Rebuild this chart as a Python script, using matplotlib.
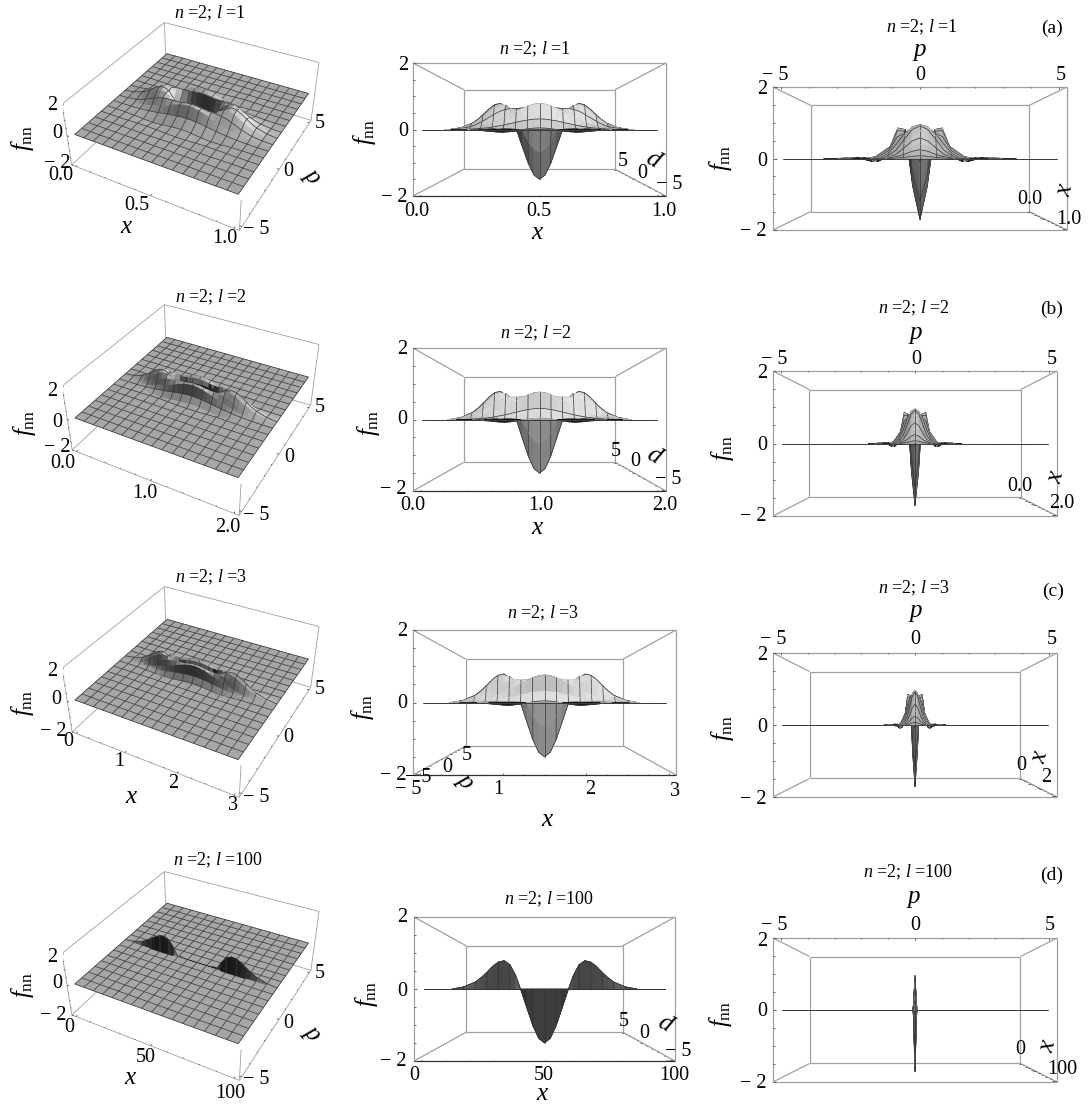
import numpy as np
import matplotlib
matplotlib.use("Agg")
import matplotlib.pyplot as plt
from mpl_toolkits.mplot3d import proj3d
from mpl_toolkits.mplot3d.art3d import Poly3DCollection

W, H = 1088, 1106
plt.rcParams["font.family"] = ["Liberation Serif", "DejaVu Serif"]
plt.rcParams["mathtext.fontset"] = "custom"
plt.rcParams["mathtext.rm"] = "Liberation Serif"
plt.rcParams["mathtext.it"] = "Liberation Serif:italic"

# =========================
# data (quarter of the surface, the rest is mirrored)
# =========================
l_values = [1, 2, 3, 100]
dx_frac = [0, 0.03125, 0.0625, 0.09375, 0.125, 0.15625, 0.1875, 0.21875, 0.25,
           0.28125, 0.3125, 0.34375, 0.375, 0.4375, 0.5]

p_rows_l1 = [0, 0.3125, 0.625, 0.9375, 1.25, 1.875, 2.5, 3.125, 3.75, 4.375, 5]
p_rows_l2 = [0, 0.15625, 0.3125, 0.46875, 0.625, 0.9375, 1.25, 1.5625, 1.875, 2.1875, 2.5]
p_rows_l3 = [0, 0.10417, 0.20833, 0.3125, 0.41667, 0.625, 0.83333, 1.04167, 1.25, 1.45833, 1.66667]
p_rows_l100 = [0, 0.08]

f_ring = [
    [-2.00, -1.83, -1.37, -0.74, -0.10, 0.50, 0.90, 1.05, 1.00, 0.84, 0.62, 0.42, 0.26, 0.08, 0.00],
    [-0.90, -0.78, -0.47, -0.05, 0.40, 0.78, 0.96, 0.98, 0.88, 0.70, 0.52, 0.34, 0.21, 0.06, 0.00],
    [0.95, 0.93, 0.88, 0.84, 0.82, 0.82, 0.78, 0.70, 0.58, 0.44, 0.31, 0.19, 0.11, 0.03, 0.00],
    [1.00, 0.97, 0.90, 0.80, 0.68, 0.56, 0.46, 0.36, 0.26, 0.18, 0.12, 0.08, 0.05, 0.01, 0.00],
    [0.40, 0.39, 0.36, 0.32, 0.27, 0.22, 0.17, 0.13, 0.09, 0.06, 0.04, 0.02, 0.01, 0.00, 0.00],
    [0.06, 0.05, 0.02, -0.02, -0.05, -0.08, -0.10, -0.09, -0.07, -0.05, -0.03, -0.02, -0.01, 0.00, 0.00],
    [-0.03, -0.03, -0.02, -0.01, 0.01, 0.02, 0.03, 0.03, 0.02, 0.02, 0.01, 0.00, 0.00, 0.00, 0.00],
    [0.01, 0.01, 0.01, 0.00, -0.01, -0.01, -0.01, -0.01, -0.01, 0.00, 0.00, 0.00, 0.00, 0.00, 0.00],
    [0.00] * 15,
    [0.00] * 15,
    [0.00] * 15,
]
f_l100 = [
    [-2.00, -1.83, -1.37, -0.74, -0.10, 0.50, 0.90, 1.05, 1.00, 0.84, 0.62, 0.42, 0.26, 0.08, 0.00],
    [0.00] * 15,
]
p_mesh = [0.625, 1.25, 1.875, 2.5, 3.125, 3.75, 4.375, 5]

tables = {1: (p_rows_l1, f_ring), 2: (p_rows_l2, f_ring), 3: (p_rows_l3, f_ring), 100: (p_rows_l100, f_l100)}
x_ticks = {1: [0, 0.5, 1], 2: [0, 1, 2], 3: [0, 1, 2, 3], 100: [0, 50, 100]}
x_minor_step = {1: 0.1, 2: 0.2, 3: 0.25, 100: 10}
z_ticks = [-2, 0, 2]
p_ticks = [-5, 0, 5]

# =========================
# layout (pixels of the reference)
# =========================
box_targets = {
    (0, 0): (62, 23, 319, 230), (1, 0): (62, 305, 319, 515),
    (2, 0): (62, 587, 319, 797), (3, 0): (62, 872, 319, 1080),
    (0, 1): (413, 63, 666, 196), (1, 1): (413, 348, 666, 491),
    (2, 1): (413, 630, 676, 775), (3, 1): (414, 917, 675, 1061),
    (0, 2): (773, 87, 1067, 230), (1, 2): (773, 371, 1057, 516),
    (2, 2): (773, 653, 1057, 797), (3, 2): (773, 938, 1057, 1082),
}
views = {0: (36, -61.6, 0.43), 1: (0, -90, 0.25), 2: (0, 0, 0.43)}
# light, brightening gain, darkening gain for each column
lights = {0: ((0.6, 0.1, 0.8), 1.6, 0.7), 1: ((0.2, -0.65, 0.73), 0.9, 0.5), 2: ((0.8, 0.1, 0.6), 0.6, 0.5)}

FNN = r"$f_{\mathrm{nn}}$"
labels = [
    # column 1
    ("2", 52, 106), ("0", 57, 133), ("− 2", 57, 163), ("0.0", 61, 175), ("0.5", 137, 206),
    ("1.0", 225, 239), ("− 5", 256, 230), ("0", 288, 172), ("5", 320, 124),
    ("2", 52, 392), ("0", 57, 422), ("− 2", 57, 448), ("0.0", 63, 463), ("1.0", 145, 493),
    ("2.0", 228, 527), ("− 5", 256, 515), ("0", 289, 457), ("5", 320, 407),
    ("2", 52, 672), ("0", 56, 700), ("− 2", 53, 732), ("0", 68, 742), ("1", 119, 762),
    ("2", 173, 783), ("3", 233, 806), ("− 5", 256, 797), ("0", 288, 738), ("5", 320, 690),
    ("2", 52, 957), ("0", 57, 984), ("− 2", 53, 1015), ("0", 69, 1027), ("50", 146, 1057),
    ("100", 230, 1093), ("− 5", 256, 1080), ("0", 288, 1023), ("5", 320, 973),
    # column 2
    ("2", 403, 65), ("0", 403, 132), ("− 2", 394, 197), ("0.0", 417, 211), ("0.5", 539, 211),
    ("1.0", 664, 211), ("5", 623, 161), ("0", 642, 173), ("− 5", 669, 185),
    ("2", 402, 350), ("0", 402, 420), ("− 2", 393, 490), ("0.0", 413, 505), ("1.0", 541, 505),
    ("2.0", 665, 505), ("5", 616, 451), ("0", 635, 462), ("− 5", 668, 480),
    ("2", 402, 631), ("0", 402, 703), ("− 2", 393, 776), ("− 5", 408, 790), ("− 5", 418, 777),
    ("0", 447, 768), ("5", 467, 756), ("1", 498, 790), ("2", 590, 790), ("3", 675, 791),
    ("2", 402, 918), ("0", 402, 991), ("− 2", 393, 1062), ("0", 414, 1075), ("50", 544, 1075),
    ("100", 674, 1075), ("5", 624, 1021), ("0", 644, 1033), ("− 5", 678, 1051),
    # column 3
    ("− 5", 775, 76), ("0", 920, 76), ("5", 1061, 76), ("2", 762, 89), ("0", 762, 161),
    ("− 2", 753, 231), ("0.0", 1030, 200), ("1.0", 1069, 219),
    ("− 5", 774, 360), ("0", 916, 360), ("5", 1052, 360), ("2", 762, 373), ("0", 762, 445),
    ("− 2", 753, 517), ("0.0", 1020, 486), ("2.0", 1062, 503),
    ("− 5", 773, 639), ("0", 915, 639), ("5", 1052, 639), ("2", 762, 655), ("0", 762, 727),
    ("− 2", 753, 799), ("0", 1021, 765), ("2", 1046, 778),
    ("− 5", 774, 926), ("0", 915, 926), ("5", 1050, 926), ("2", 762, 941), ("0", 762, 1011),
    ("− 2", 753, 1083), ("0", 1020, 1050), ("100", 1062, 1069),
]
titles = [
    ("1", 210, 13), ("2", 211, 297), ("3", 211, 577), ("100", 218, 860),
    ("1", 535, 49), ("2", 536, 333), ("3", 543, 613), ("100", 549, 899),
    ("1", 922, 27), ("2", 914, 308), ("3", 914, 588), ("100", 908, 872),
]
axis_names = [
    (FNN, 23, 138, 90), (FNN, 25, 423, 90), (FNN, 23, 703, 90), (FNN, 23, 985, 90),
    (FNN, 365, 132, 90), (FNN, 368, 423, 90), (FNN, 363, 707, 90), (FNN, 367, 994, 90),
    (FNN, 720, 158, 90), (FNN, 722, 448, 90), (FNN, 722, 728, 90), (FNN, 720, 1014, 90),
    ("$x$", 127, 227, 0), ("$x$", 132, 797, 0), ("$x$", 131, 1078, 0),
    ("$x$", 538, 233, 0), ("$x$", 538, 528, 0), ("$x$", 548, 820, 0), ("$x$", 543, 1094, 0),
    ("$x$", 1065, 190, 75), ("$x$", 1056, 477, 75), ("$x$", 1040, 757, 75), ("$x$", 1048, 1046, 75),
    ("$p$", 310, 178, -50), ("$p$", 310, 1035, -50),
    ("$p$", 656, 157, 150), ("$p$", 657, 453, 150), ("$p$", 463, 783, -50), ("$p$", 668, 1021, 150),
    ("$p$", 920, 52, 0), ("$p$", 916, 335, 0), ("$p$", 916, 613, 0), ("$p$", 914, 899, 0),
]
letters = [("(a)", 1052, 28), ("(b)", 1052, 309), ("(c)", 1053, 591), ("(d)", 1052, 875)]

fig = plt.figure(figsize=(W / 100, H / 100), dpi=100)
BOX = "#a0a0a0"


def build_surface(l_val):
    rows, vals = tables[l_val]
    rows = list(rows)
    vals = [list(v) for v in vals]
    for pm in p_mesh:
        if pm > rows[-1] + 1e-6:
            rows.append(pm)
            vals.append([0.0] * len(dx_frac))
    vals = np.array(vals)
    dx = np.array(dx_frac)
    rows = np.array(rows)
    xs = l_val * np.r_[0.5 - dx[::-1], 0.5 + dx[1:]]
    ps = np.r_[-rows[::-1], rows[1:]]
    half = np.hstack([vals[:, ::-1], vals[:, 1:]])
    zz = np.vstack([half[::-1], half[1:]])
    return xs, ps, zz


def facet_shade(xs, ps, zz, l_val, col, cam):
    # grey from facet normals, flat plane stays at the base grey
    light, up_gain, down_gain = lights[col]
    light = np.array(light) / np.linalg.norm(light)
    xn, pn = np.meshgrid(xs / l_val, ps / 10)
    zn = zz * 0.06
    a = np.stack([xn[1:, 1:] - xn[:-1, :-1], pn[1:, 1:] - pn[:-1, :-1], zn[1:, 1:] - zn[:-1, :-1]], axis=-1)
    b = np.stack([xn[:-1, 1:] - xn[1:, :-1], pn[:-1, 1:] - pn[1:, :-1], zn[:-1, 1:] - zn[1:, :-1]], axis=-1)
    n = np.cross(b, a)
    n = n * np.sign(n[..., 2:3])
    n = n / np.linalg.norm(n, axis=-1, keepdims=True)
    if col > 0:
        # side views see the underside of the dip, turn normals to the camera
        facing = n @ cam
        n = np.where(facing[..., None] < -1e-6, -n, n)
    d = n @ light - light[2]
    shade = 0.65 + np.where(d > 0, up_gain * d, down_gain * d)
    if col == 1 and l_val == 100:
        shade = shade * 0.42
    return np.clip(shade, 0.08, 1.0)


def draw_surface(ax, l_val, col, elev, azim):
    xs, ps, zz = build_surface(l_val)
    e, a = np.radians(elev), np.radians(azim)
    cam = np.array([np.cos(e) * np.cos(a), np.cos(e) * np.sin(a), np.sin(e)])
    shade = facet_shade(xs, ps, zz, l_val, col, cam)
    items = []
    x_step = np.diff(xs) / l_val
    p_step = np.diff(ps) / 10.6

    def depth(pts):
        pts = np.array(pts)
        return np.mean((pts / np.array([l_val, 10.6, 8.0])) @ cam)

    for j in range(len(ps) - 1):
        for i in range(len(xs) - 1):
            quad = [(xs[i], ps[j], zz[j, i]), (xs[i + 1], ps[j], zz[j, i + 1]),
                    (xs[i + 1], ps[j + 1], zz[j + 1, i + 1]), (xs[i], ps[j + 1], zz[j + 1, i])]
            g = shade[j, i]
            items.append((depth(quad), quad, (g, g, g, 1)))
    # mesh lines sort with the facets, pulled towards the camera by about half a facet
    dark = (0.2, 0.2, 0.2, 1)
    for i, x in enumerate(xs):
        if abs((x / l_val * 16) - round(x / l_val * 16)) < 1e-6:
            near = x_step[max(i - 1, 0):i + 1].max()
            for j in range(len(ps) - 1):
                seg = [(x, ps[j], zz[j, i]), (x, ps[j + 1], zz[j + 1, i])]
                bias = 0.6 * abs(cam[0]) * near + 0.6 * abs(cam[1]) * p_step[j] + 0.01 * abs(cam[2])
                items.append((depth(seg) + bias, [seg[0], seg[1], seg[1], seg[0]], dark))
    for j, p in enumerate(ps):
        if abs(p / 0.625 - round(p / 0.625)) < 1e-6:
            near = p_step[max(j - 1, 0):j + 1].max()
            for i in range(len(xs) - 1):
                seg = [(xs[i], p, zz[j, i]), (xs[i + 1], p, zz[j, i + 1])]
                bias = 0.6 * abs(cam[0]) * x_step[i] + 0.6 * abs(cam[1]) * near + 0.01 * abs(cam[2])
                items.append((depth(seg) + bias, [seg[0], seg[1], seg[1], seg[0]], dark))
    items.sort(key=lambda t: t[0])
    polys = [t[1] for t in items]
    colors = [t[2] for t in items]
    coll = Poly3DCollection(polys, facecolors=colors, edgecolors=colors, linewidths=0.5, zorder=2)
    coll._zsortfunc = lambda zs: 0  # keep the order made above
    ax.add_collection3d(coll, autolim=False)


def line3(ax, a, b, z=1, lw=0.9, c=BOX):
    ax.plot([a[0], b[0]], [a[1], b[1]], [a[2], b[2]], color=c, lw=lw, zorder=z, solid_capstyle="butt")


def draw_box(ax, col, lims):
    (x0, x1), (p0, p1), (z0, z1) = lims
    if col == 0:
        lw = 0.6
        line3(ax, (x0, p0, z1), (x0, p1, z1), lw=lw)
        line3(ax, (x0, p1, z1), (x1, p1, z1), lw=lw)
        line3(ax, (x1, p1, z1), (x1, p1, z0), lw=lw)
        line3(ax, (x0, p1, z1), (x0, p1, z0), lw=lw)
        line3(ax, (x0, p0, z0), (x0, p1, z0), lw=lw)
        line3(ax, (x0, p1, z0), (x1, p1, z0), lw=lw)
        line3(ax, (x0, p0, z1), (x0, p0, z0), z=3, lw=lw)
        line3(ax, (x0, p0, z0), (x1, p0, z0), z=3, lw=lw)
        line3(ax, (x1, p0, z0), (x1, p1, z0), z=3, lw=lw)
        line3(ax, (x1, p0, z0), (x1, p0, 0), z=3, lw=lw)
        return
    for a in (x0, x1):
        for b in (p0, p1):
            line3(ax, (a, b, z0), (a, b, z1), z=3 if ((col == 1 and b == p0) or (col == 2 and a == x1)) else 1)
    for a in (x0, x1):
        for c in (z0, z1):
            line3(ax, (a, p0, c), (a, p1, c), z=3 if (col == 2 and a == x1) else 1)
    for b in (p0, p1):
        for c in (z0, z1):
            front = col == 1 and b == p0
            line3(ax, (x0, b, c), (x1, b, c), z=3 if front else 1, c="#303030" if front and c == z0 else BOX)


def draw_ticks(ax, col, l_val, lims, row):
    (x0, x1), (p0, p1), (z0, z1) = lims
    dp, dx, dz = 0.012 * (p1 - p0), 0.012 * (x1 - x0), 0.012 * (z1 - z0)
    tc = "#505050"
    zx = x1 if col == 2 else x0
    for v in np.arange(-2, 2.01, 0.5):
        k = 1.0 if v in z_ticks else 0.5
        if col == 2:
            line3(ax, (zx, p0, v), (zx, p0 + k * dp, v), z=3, lw=0.6, c=tc)
        else:
            line3(ax, (zx, p0, v), (zx + k * dx, p0, v), z=3, lw=0.6, c=tc)
    step = x_minor_step[l_val]
    for v in np.arange(0, l_val + 1e-6, step):
        k = 1.0 if min(abs(v - t) for t in x_ticks[l_val]) < 1e-6 else 0.5
        if col == 2:
            line3(ax, (v, p1, z0), (v, p1 - k * dp, z0), z=3, lw=0.6, c=tc)
        elif col == 1 and row == 2:
            line3(ax, (v, p0, z0), (v, p0, z0 + k * dz), z=3, lw=0.6, c=tc)
        else:
            line3(ax, (v, p0, z0), (v, p0 + k * dp, z0), z=3, lw=0.6, c=tc)
    for v in np.arange(-5, 5.01, 1):
        k = 1.0 if v in p_ticks else 0.5
        if col == 2:
            line3(ax, (x1, v, z1), (x1, v, z1 - k * dz), z=3, lw=0.6, c=tc)
        elif col == 1 and row == 2:
            line3(ax, (x0, v, z0), (x0 + k * dx, v, z0), z=3, lw=0.6, c=tc)
        else:
            line3(ax, (x1, v, z0), (x1 - k * dx, v, z0), z=3, lw=0.6, c=tc)


def box_pixels(ax, lims):
    xs, ys, zs = [], [], []
    for a in lims[0]:
        for b in lims[1]:
            for c in lims[2]:
                xs.append(a), ys.append(b), zs.append(c)
    u, v, _ = proj3d.proj_transform(np.array(xs), np.array(ys), np.array(zs), ax.get_proj())
    ax.apply_aspect()
    return ax.transData.transform(np.c_[u, v])


def fit_box(ax, target, lims):
    # size and shift the square 3d axes until the drawn box lands on the target rectangle
    left, top, right, bottom = target
    tw, th = right - left, bottom - top
    tcx, tcy = (left + right) / 2, H - (top + bottom) / 2
    s, cx, cy, zr = 600.0, tcx, tcy, 0.5
    for _ in range(10):
        ax.set_box_aspect((1, 1, zr))
        ax.set_position([(cx - s / 2) / W, (cy - s / 2) / H, s / W, s / H])
        pts = box_pixels(ax, lims)
        w = np.ptp(pts[:, 0])
        h = np.ptp(pts[:, 1])
        zr *= (th / h) / (tw / w)
        s *= tw / w
        cx += tcx - (pts[:, 0].min() + pts[:, 0].max()) / 2
        cy += tcy - (pts[:, 1].min() + pts[:, 1].max()) / 2


for row, l_val in enumerate(l_values):
    for col in range(3):
        elev, azim, focal = views[col]
        ax = fig.add_axes([0, 0, 0.5, 0.5], projection="3d")
        ax.computed_zorder = False
        ax.set_axis_off()
        ax.set_proj_type("persp", focal_length=focal)
        ax.view_init(elev=elev, azim=azim, roll=0)
        lims = ((-0.03 * l_val, 1.03 * l_val), (-5.3, 5.3), (-2, 2))
        ax.set_xlim(*lims[0])
        ax.set_ylim(*lims[1])
        ax.set_zlim(*lims[2])
        fit_box(ax, box_targets[(row, col)], lims)
        draw_box(ax, col, lims)
        draw_ticks(ax, col, l_val, lims, row)
        draw_surface(ax, l_val, col, elev, azim)


def put(s, x, y, size, rot=0):
    fig.text(x / W, 1 - y / H, s, fontsize=size, rotation=rot, ha="center", va="center")


for s, x, y in labels:
    put(s, x, y, 14.5)
for s, x, y in titles:
    put(rf"$n$ =2; $l$ ={s}", x, y, 13)
for s, x, y, rot in axis_names:
    put(s, x, y, 18, rot)
for s, x, y in letters:
    put(s, x, y, 14)

fig.savefig("out.png", dpi=100)
